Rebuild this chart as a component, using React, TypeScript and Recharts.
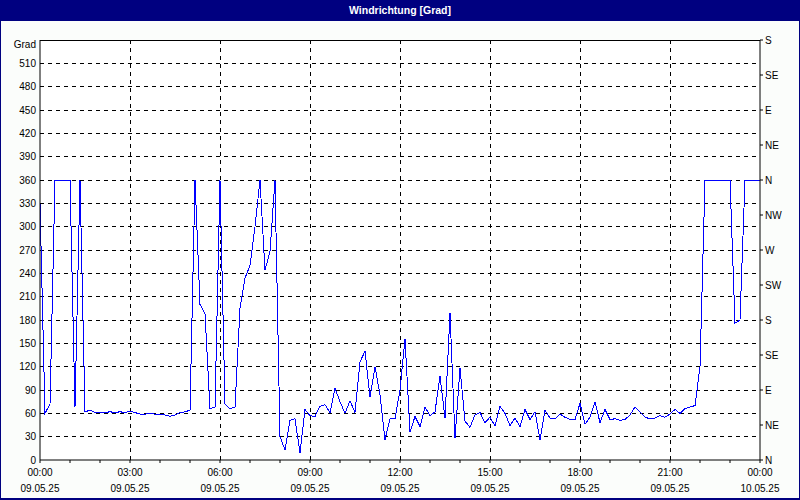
import React from "react";
import { LineChart, Line, XAxis, YAxis, CartesianGrid, ReferenceLine } from "recharts";

// Windrichtung in Grad, alle 10 Minuten ab 00:00 (09.05.25) bis 00:00 (10.05.25)
const degrees = [
  330, 60, 72, 360, 360, 360, 360, 68, 360, 62,
  64, 61, 61, 61, 62, 61, 62, 61, 63, 61,
  59, 59, 60, 59, 58, 58, 56, 58, 61, 62,
  64, 360, 200, 188, 66, 68, 360, 72, 66, 68,
  195, 234, 250, 300, 360, 244, 268, 360, 30, 13,
  51, 53, 9, 65, 57, 56, 69, 71, 61, 92,
  75, 60, 76, 61, 126, 140, 81, 120, 84, 26,
  53, 53, 90, 156, 36, 56, 43, 68, 57, 62,
  108, 54, 189, 28, 118, 50, 42, 58, 61, 48,
  55, 44, 69, 60, 44, 54, 43, 65, 52, 62,
  26, 64, 54, 53, 59, 55, 52, 52, 73, 46,
  55, 75, 48, 65, 52, 53, 51, 52, 58, 68,
  62, 55, 53, 54, 57, 55, 59, 65, 60, 66,
  68, 70, 120, 360, 360, 360, 360, 360, 360, 176,
  180, 360, 360, 360, 360,
];

const STEP_MIN = 10;
const data = degrees.map((deg, i) => ({ t: i * STEP_MIN, deg }));

const hourTicks = Array.from({ length: 25 }, (_, i) => i * 60);
const gridHours = [180, 360, 540, 720, 900, 1080, 1260];
const timeLabels = ["00:00", "03:00", "06:00", "09:00", "12:00", "15:00", "18:00", "21:00", "00:00"];
const dateLabels = ["09.05.25", "09.05.25", "09.05.25", "09.05.25", "09.05.25", "09.05.25", "09.05.25", "09.05.25", "10.05.25"];

const gradTicks = Array.from({ length: 19 }, (_, i) => i * 30);
const compassTicks = Array.from({ length: 13 }, (_, i) => i * 45);
const compassLabels = ["N", "NE", "E", "SE", "S", "SW", "W", "NW", "N", "NE", "E", "SE", "S"];

const FONT = "'Liberation Sans', Arial, sans-serif";
const NAVY = "#000080";

const TimeTick = ({ x, y, payload }: any) => {
  const v = payload.value;
  if (v % 180 !== 0) return null;
  const i = v / 180;
  return (
    <g>
      <text x={x} y={y} dy={11} textAnchor="middle" fontSize={10} fontFamily={FONT} fill="#000">
        {timeLabels[i]}
      </text>
      <text x={x} y={y} dy={27} textAnchor="middle" fontSize={10} fontFamily={FONT} fill="#000">
        {dateLabels[i]}
      </text>
    </g>
  );
};

const GradTick = ({ x, y, payload }: any) => {
  const v = payload.value;
  const label = v === 540 ? "Grad" : String(v);
  return (
    <text x={x} y={y} dy={v === 540 ? 8 : 3.5} textAnchor="end" fontSize={10} fontFamily={FONT} fill="#000">
      {label}
    </text>
  );
};

const CompassTick = ({ x, y, payload }: any) => (
  <text x={x} y={y} dy={3.5} textAnchor="start" fontSize={10} fontFamily={FONT} fill="#000">
    {compassLabels[compassTicks.indexOf(payload.value)]}
  </text>
);

export default function App() {
  return (
    <div style={{ position: "absolute", left: 0, top: 0, width: 800, height: 500, background: "#fbfdfb" }}>
      <LineChart
        width={800}
        height={500}
        data={data}
        margin={{ top: 40, right: 0, bottom: 0, left: 0 }}
        style={{ position: "absolute", left: 0, top: 0 }}
      >
        <CartesianGrid yAxisId="left" horizontal={false} vertical={false} fill="#fff" />
        <XAxis
          dataKey="t"
          type="number"
          domain={[0, 1440]}
          ticks={hourTicks}
          interval={0}
          height={40}
          tickSize={3}
          tickMargin={2}
          axisLine={{ stroke: "#000" }}
          tickLine={{ stroke: "#000" }}
          tick={<TimeTick />}
        />
        <YAxis
          yAxisId="left"
          type="number"
          domain={[0, 540]}
          ticks={gradTicks}
          interval={0}
          width={40}
          tickSize={0}
          tickMargin={4}
          axisLine={{ stroke: "#000" }}
          tick={<GradTick />}
        />
        <YAxis
          yAxisId="right"
          orientation="right"
          type="number"
          domain={[0, 540]}
          ticks={compassTicks}
          interval={0}
          width={40}
          tickSize={3}
          tickMargin={2}
          axisLine={{ stroke: "#000" }}
          tickLine={{ stroke: "#000" }}
          tick={<CompassTick />}
        />
        {gradTicks.slice(1, -1).map((g) => (
          <ReferenceLine
            key={`h${g}`}
            y={g}
            yAxisId="left"
            stroke="#000"
            strokeDasharray="4 4"
            shapeRendering="crispEdges"
          />
        ))}
        {gridHours.map((h) => (
          <ReferenceLine
            key={`v${h}`}
            x={h}
            yAxisId="left"
            stroke="#000"
            strokeDasharray="4 4"
            shapeRendering="crispEdges"
          />
        ))}
        <ReferenceLine y={540} yAxisId="left" stroke="#000" shapeRendering="crispEdges" />
        {/* carries the compass axis; not drawn */}
        <Line
          yAxisId="right"
          type="linear"
          dataKey="deg"
          stroke="none"
          dot={false}
          activeDot={false}
          isAnimationActive={false}
          legendType="none"
        />
        <Line
          yAxisId="left"
          type="linear"
          dataKey="deg"
          stroke="#0000ff"
          strokeWidth={1}
          dot={false}
          activeDot={false}
          isAnimationActive={false}
          shapeRendering="crispEdges"
        />
      </LineChart>
      <div
        style={{
          position: "absolute",
          left: 0,
          top: 0,
          width: 800,
          height: 21,
          background: NAVY,
          color: "#fff",
          fontFamily: FONT,
          fontWeight: "bold",
          fontSize: 10.5,
          lineHeight: "21px",
          textAlign: "center",
        }}
      >
        Windrichtung [Grad]
      </div>
      <div
        style={{
          position: "absolute",
          inset: 0,
          border: `1px solid ${NAVY}`,
          borderBottomWidth: 2,
          pointerEvents: "none",
        }}
      />
    </div>
  );
}
